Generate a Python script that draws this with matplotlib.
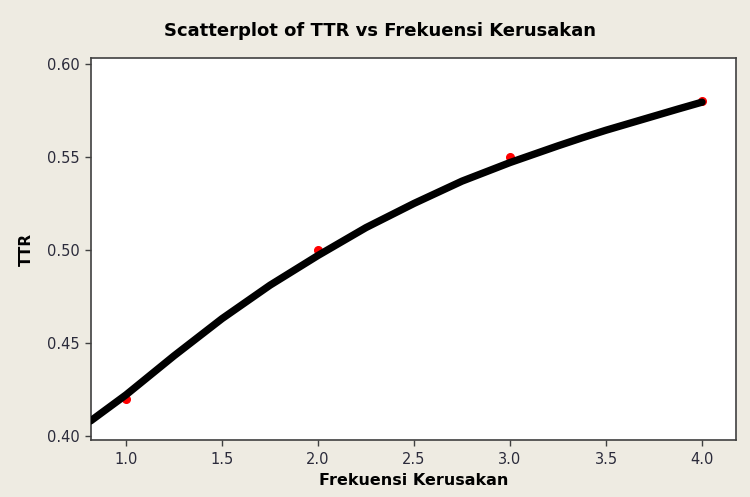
import matplotlib
matplotlib.use("Agg")
import matplotlib.pyplot as plt

# Observed data points
freq = [1.0, 2.0, 3.0, 4.0]
ttr = [0.42, 0.50, 0.55, 0.58]

# Fitted curve
curve_x = [0.816, 0.875, 1.0, 1.125, 1.25, 1.375, 1.5, 1.625, 1.75, 1.875, 2.0,
           2.125, 2.25, 2.375, 2.5, 2.625, 2.75, 2.875, 3.0, 3.125, 3.25, 3.375,
           3.5, 3.625, 3.75, 3.875, 4.0]
curve_y = [0.408, 0.4125, 0.422, 0.4325, 0.443, 0.453, 0.463, 0.472, 0.481, 0.489, 0.497,
           0.5045, 0.512, 0.5185, 0.525, 0.531, 0.537, 0.542, 0.547, 0.5515, 0.556, 0.5603,
           0.5644, 0.5682, 0.5720, 0.5758, 0.5795]

xticks = [1.0, 1.5, 2.0, 2.5, 3.0, 3.5, 4.0]
yticks = [0.40, 0.45, 0.50, 0.55, 0.60]

bg = "#EEEBE2"
fig = plt.figure(figsize=(7.5, 4.97), dpi=100, facecolor=bg)
W, H = 750, 497
left, right, top, bottom = 90.7, 736, 58.3, 440
ax = fig.add_axes([left / W, 1 - bottom / H, (right - left) / W, (bottom - top) / H])
ax.set_facecolor("white")

ax.plot(freq, ttr, "o", color="red", markersize=5.5, zorder=2)
ax.plot(curve_x, curve_y, color="black", lw=5.3, solid_capstyle="round",
        solid_joinstyle="round", zorder=3)

ax.set_xlim(0.816, 4.177)
ax.set_ylim(0.3977, 0.6031)
ax.set_xticks(xticks)
ax.set_xticklabels([f"{v:.1f}" for v in xticks])
ax.set_yticks(yticks)
ax.set_yticklabels([f"{v:.2f}" for v in yticks])

for s in ax.spines.values():
    s.set_color("#404040")
    s.set_linewidth(1.2)

ax.tick_params(axis="both", direction="out", length=4, width=1, color="#404040",
               labelsize=10.5, labelcolor="#2b2b3b")
ax.tick_params(axis="y", pad=4)
ax.tick_params(axis="x", pad=5)

ax.set_xlabel("Frekuensi Kerusakan", fontsize=11.5, fontweight="bold", labelpad=4)
ax.set_ylabel("TTR", fontsize=11, fontweight="bold", labelpad=9.5)

fig.text(0.507, 1 - 31 / H, "Scatterplot of TTR vs Frekuensi Kerusakan",
         ha="center", va="center", fontsize=13, fontweight="bold")

fig.savefig("out.png", dpi=100, facecolor=bg)
